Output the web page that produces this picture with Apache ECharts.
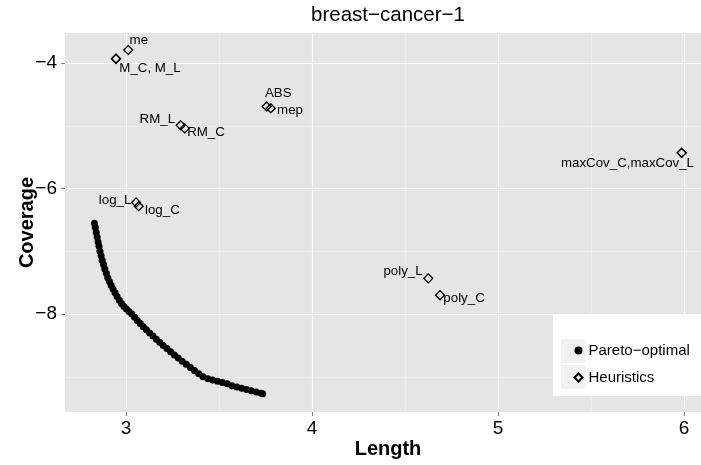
<!DOCTYPE html>
<html>
<head>
<meta charset="utf-8">
<script src="https://cdn.jsdelivr.net/npm/echarts@6/dist/echarts.min.js"></script>
<style>
html,body{margin:0;padding:0;background:#fff;}
#chart{width:701px;height:465px;}
</style>
</head>
<body>
<div id="chart"></div>
<script>
// ---- data ----
var titleText = 'breast\u2212cancer\u22121';
var xTicks = [3, 4, 5, 6];
var xMinorTicks = [3.5, 4.5, 5.5];
var yTicks = [-8, -6, -4];
var yMinorTicks = [-9, -7, -5];

var paretoX = [2.830,2.835,2.840,2.845,2.850,2.855,2.860,2.866,2.872,2.879,2.886,2.894,2.902,2.911,2.920,2.930,2.941,2.952,2.964,2.976,2.989,3.002,3.016,3.031,3.046,3.061,3.077,3.093,3.110,3.127,3.145,3.163,3.181,3.200,3.220,3.240,3.260,3.281,3.302,3.324,3.346,3.368,3.391,3.414,3.440,3.466,3.492,3.518,3.544,3.570,3.596,3.622,3.648,3.674,3.700,3.725,3.735];
var paretoY = [-6.55,-6.62,-6.70,-6.77,-6.85,-6.92,-7.00,-7.07,-7.14,-7.21,-7.28,-7.35,-7.42,-7.48,-7.54,-7.60,-7.66,-7.72,-7.78,-7.83,-7.88,-7.92,-7.96,-8.00,-8.05,-8.10,-8.15,-8.20,-8.25,-8.30,-8.35,-8.40,-8.45,-8.50,-8.55,-8.60,-8.65,-8.70,-8.75,-8.80,-8.85,-8.90,-8.95,-9.00,-9.03,-9.05,-9.07,-9.09,-9.11,-9.14,-9.16,-9.18,-9.20,-9.22,-9.24,-9.26,-9.27];

var heurNames  = ['me','M_C','M_L','ABS','mep','RM_L','RM_C','log_L','log_C','maxCov_C','maxCov_L','poly_L','poly_C'];
var heurX      = [3.012, 2.946, 2.946, 3.756, 3.778, 3.294, 3.316, 3.054, 3.068, 5.987, 5.987, 4.625, 4.688];
var heurY      = [-3.79, -3.93, -3.93, -4.69, -4.72, -4.99, -5.04, -6.22, -6.28, -5.43, -5.43, -7.43, -7.70];
var heurLabels = ['me', '', 'M_C, M_L', 'ABS', 'mep', 'RM_L', 'RM_C', 'log_L', 'log_C', '', 'maxCov_C,maxCov_L', 'poly_L', 'poly_C'];

// ---- label placement (style, not data): [align, dx, dy] relative to point centre ----
var labelPlace = {
  'me': ['left', 2, -9],
  'M_L': ['left', 4, 10],
  'ABS': ['left', -1, -12],
  'mep': ['left', 7, 3],
  'RM_L': ['right', -5, -5],
  'RM_C': ['left', 3, 5],
  'log_L': ['right', -4, -1],
  'log_C': ['left', 7, 5],
  'maxCov_L': ['right', 13, 11],
  'poly_L': ['right', -5, -6],
  'poly_C': ['left', 4, 4]
};

var FONT = '"Liberation Sans", Arial, Helvetica, sans-serif';
var DSIZE = 9;

var paretoData = paretoX.map(function (x, i) { return [x, paretoY[i]]; });
var heurData = heurX.map(function (x, i) {
  var item = { name: heurNames[i], value: [x, heurY[i]] };
  var p = labelPlace[heurNames[i]];
  if (heurLabels[i] && p) {
    item.label = {
      show: true,
      formatter: heurLabels[i],
      position: [DSIZE / 2 + p[1], DSIZE / 2 + p[2]],
      align: p[0],
      verticalAlign: 'middle',
      fontSize: 13.3,
      fontFamily: FONT,
      color: '#000'
    };
  }
  return item;
});

function fmtMinus(v) { return String(v).replace('-', '\u2212'); }

var chart = echarts.init(document.getElementById('chart'), null, { renderer: 'canvas' });

var option = {
  animation: false,
  backgroundColor: '#ffffff',
  title: {
    text: titleText,
    left: 383,
    textAlign: 'center',
    top: 0,
    textStyle: { fontFamily: FONT, fontWeight: 'normal', fontSize: 20.5, color: '#000' }
  },
  grid: {
    left: 65, top: 33, right: 0, bottom: 53,
    outerBoundsMode: 'none',
    containLabel: false,
    show: true, backgroundColor: '#E5E5E5', borderWidth: 0
  },
  xAxis: [{
    type: 'value', min: 2.672, max: 6.091,
    name: 'Length', nameLocation: 'middle', nameGap: 27, nameMoveOverlap: false,
    nameTextStyle: { fontFamily: FONT, fontWeight: 'bold', fontSize: 20, color: '#000', padding: [0, 0, 0, 10] },
    axisLine: { show: false },
    axisTick: { show: true, length: 4, lineStyle: { color: '#7f7f7f' }, customValues: xTicks },
    axisLabel: { fontFamily: FONT, fontSize: 19, color: '#000', margin: 7, customValues: xTicks },
    splitLine: { show: true, lineStyle: { color: '#ffffff', width: 1.2 } },
    z: 1
  }, {
    type: 'value', min: 2.672, max: 6.091, position: 'bottom',
    axisLine: { show: false },
    axisTick: { show: false, customValues: xMinorTicks },
    axisLabel: { show: false, customValues: xMinorTicks },
    splitLine: { show: true, lineStyle: { color: '#F2F2F2', width: 0.6 } },
    z: 0
  }],
  yAxis: [{
    type: 'value', min: -9.56, max: -3.52,
    name: 'Coverage', nameLocation: 'middle', nameGap: 28, nameRotate: 90, nameMoveOverlap: false,
    nameTextStyle: { fontFamily: FONT, fontWeight: 'bold', fontSize: 20, color: '#000' },
    axisLine: { show: false },
    axisTick: { show: true, length: 4, lineStyle: { color: '#7f7f7f' }, customValues: yTicks },
    axisLabel: { fontFamily: FONT, fontSize: 19, color: '#000', margin: 8, customValues: yTicks, formatter: fmtMinus },
    splitLine: { show: true, lineStyle: { color: '#ffffff', width: 1.2 } },
    z: 1
  }, {
    type: 'value', min: -9.56, max: -3.52, position: 'left',
    axisLine: { show: false },
    axisTick: { show: false, customValues: yMinorTicks },
    axisLabel: { show: false, customValues: yMinorTicks },
    splitLine: { show: true, lineStyle: { color: '#F2F2F2', width: 0.6 } },
    z: 0
  }],
  legend: {
    orient: 'vertical',
    left: 568.5, top: 338,
    itemWidth: 8, itemHeight: 8, itemGap: 12,
    z: 10,
    textStyle: { fontFamily: FONT, fontSize: 15, color: '#000', padding: [0, 0, 0, 1] },
    data: [
      { name: 'Pareto\u2212optimal', icon: 'circle' },
      { name: 'Heuristics', icon: 'diamond' }
    ]
  },
  graphic: [
    { type: 'rect', z: 5, shape: { x: 553, y: 315, width: 160, height: 81 }, style: { fill: '#ffffff' } },
    { type: 'rect', z: 6, shape: { x: 561, y: 339, width: 24, height: 24 }, style: { fill: '#F2F2F2' } },
    { type: 'rect', z: 6, shape: { x: 561, y: 365, width: 24, height: 24 }, style: { fill: '#F2F2F2' } }
  ],
  series: [{
    name: 'Pareto\u2212optimal',
    type: 'scatter',
    symbol: 'circle',
    symbolSize: 7,
    itemStyle: { color: '#000000', opacity: 1 },
    data: paretoData,
    z: 3
  }, {
    name: 'Heuristics',
    type: 'scatter',
    symbol: 'diamond',
    symbolSize: DSIZE,
    itemStyle: { color: 'rgba(0,0,0,0)', borderColor: '#000000', borderWidth: 1.3, opacity: 1 },
    data: heurData,
    z: 4
  }]
};
chart.setOption(option);
</script>
</body>
</html>
